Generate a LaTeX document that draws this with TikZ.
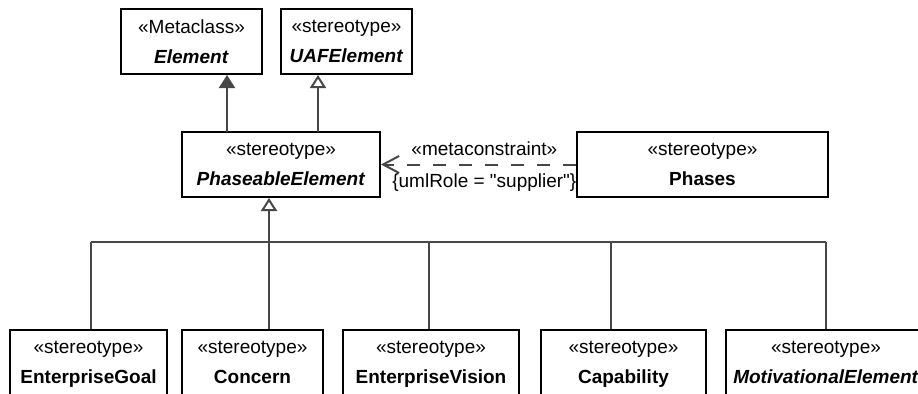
\documentclass[tikz,border=0pt]{standalone}
\usepackage{fontspec}
\setmainfont{Liberation Sans}
\usetikzlibrary{arrows.meta}
\tikzset{
    umlbox/.style={draw, line width=1pt, fill=white, align=center, inner sep=0pt,
        minimum height=32.5pt, font=\fontsize{9.5}{15}\selectfont},
    conn/.style={draw=black!72, line width=1pt},
    genfilled/.style={conn, -{Triangle[length=6.5pt,width=8pt,fill=black!72]}},
    genopen/.style={conn, -{Triangle[open,length=6.5pt,width=8pt]}},
    metadep/.style={conn, dash pattern=on 6.5pt off 6.5pt, -{Straight Barb[length=8pt,width=8.5pt]}},
    lbl/.style={font=\fontsize{9.5}{11}\selectfont, inner sep=1pt}
}
% stereotype line over the name, name kept without depth
\newcommand{\stereo}[2]{«#1»\\\raisebox{0pt}[\height][0pt]{#2}}

\begin{document}
\begin{tikzpicture}[x=0.5pt,y=-0.5pt]
    \useasboundingbox (0,0) rectangle (918,393);
    \clip (0,0) rectangle (918,393);
    % Metaclass and parent stereotype
    \node[umlbox, minimum width=70.5pt] (element) at (191.5,41.5) {\stereo{Metaclass}{\textbf{\textit{Element}}}};
    \node[umlbox, minimum width=65.5pt] (uafelement) at (346.5,41.5) {\stereo{stereotype}{\textbf{\textit{UAFElement}}}};
    % Middle row
    \node[umlbox, minimum width=99pt] (phaseable) at (281,164.5) {\stereo{stereotype}{\textbf{\textit{PhaseableElement}}}};
    \node[umlbox, minimum width=125.5pt] (phases) at (702.5,164.5) {\stereo{stereotype}{\textbf{Phases}}};
    % Bottom row
    \foreach \name/\cx/\w/\title in {goal/88.5/78.5/{\textbf{EnterpriseGoal}},
        concern/252.5/70.5/{\textbf{Concern}},
        vision/431/88/{\textbf{EnterpriseVision}},
        capability/623.5/82.5/{\textbf{Capability}},
        motivational/826/100/{\textbf{\textit{MotivationalElement}}}}
        \node[umlbox, minimum width=\w pt, anchor=north] (\name) at (\cx,329) {\stereo{stereotype}{\title}};

    % Generalizations up to the metaclass and UAFElement
    \coordinate (pe) at (227,132);
    \coordinate (pu) at (318,132);
    \draw[genfilled] (pe) -- (pe |- element.south);
    \draw[genopen] (pu) -- (pu |- uafelement.south);

    % Tree of generalizations
    \foreach \name/\cx in {goal/91,concern/269,vision/429,capability/611,motivational/826}{
        \coordinate (j\name) at (\cx,242);
        \draw[conn] (j\name) -- (j\name |- \name.north);
    }
    \draw[conn] (jgoal) -- (jmotivational);
    \draw[genopen] (jconcern) -- (jconcern |- phaseable.south);

    % Metaconstraint
    \draw[metadep] (phases.west) -- (phaseable.east)
        node[lbl, pos=0.47, above=3pt] (mc) {«metaconstraint»}
        node[lbl, pos=0.47, below=3pt] (role) {\{umlRole = \textquotedbl supplier\textquotedbl\}};
\end{tikzpicture}
\end{document}
